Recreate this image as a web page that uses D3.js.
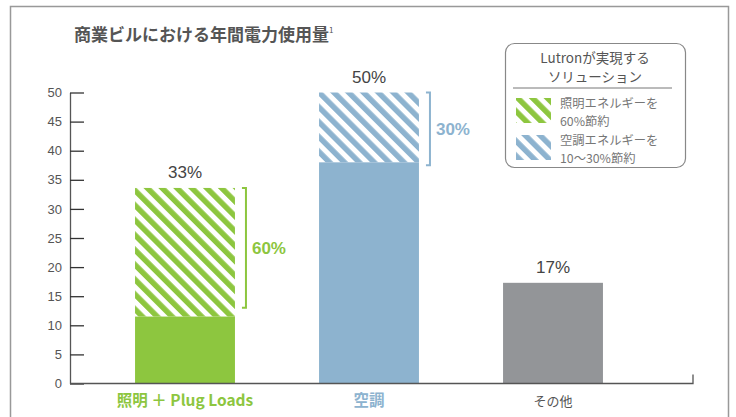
<!DOCTYPE html>
<html>
<head>
<meta charset="utf-8">
<script src="https://cdn.jsdelivr.net/npm/d3@7"></script>
<style>
  body { margin: 0; background: #fff; }
  svg { display: block; font-family: "Noto Sans CJK JP", "Noto Sans", sans-serif; }
</style>
</head>
<body>
<div id="container"></div>
<script>
const categories = ["照明 ＋ Plug Loads", "空調", "その他"];
const totals = [33.6, 50, 17.3];        // full bar height
const baseValues = [11.5, 38, 17.3];    // solid part
const totalLabels = ["33%", "50%", "17%"];
const savingLabels = ["60%", "30%", null];
const bracketLow = [13, 37.5, null];
const yTicks = [0, 5, 10, 15, 20, 25, 30, 35, 40, 45, 50];

const colors = ["#8dc63f", "#8db3cf", "#939598"];
const labelColors = ["#8dc63f", "#8db3cf", "#555"];

const width = 736, height = 417;

const svg = d3.select("#container")
  .append("svg")
  .attr("width", width)
  .attr("height", height);

// stripe patterns
const defs = svg.append("defs");
["green", "blue"].forEach((name, i) => {
  const p = defs.append("pattern")
    .attr("id", "hatch-" + name)
    .attr("patternUnits", "userSpaceOnUse")
    .attr("width", 10.5)
    .attr("height", 10)
    .attr("patternTransform", "rotate(-45)");
  p.append("rect").attr("width", 10.5).attr("height", 10).attr("fill", "#fff");
  p.append("rect").attr("width", 5.5).attr("height", 10).attr("fill", colors[i]);
});
const hatchIds = ["url(#hatch-green)", "url(#hatch-blue)", null];

// frame
svg.append("path")
  .attr("d", "M10.5,417 V6.5 H728.5 V417")
  .attr("fill", "none")
  .attr("stroke", "#999")
  .attr("stroke-width", 1.5);

// title
const title = svg.append("text")
  .attr("x", 74)
  .attr("y", 41)
  .attr("font-size", 17)
  .attr("font-weight", "bold")
  .attr("fill", "#555")
  .text("商業ビルにおける年間電力使用量");
title.append("tspan")
  .attr("font-size", 8)
  .attr("dy", -8)
  .attr("font-weight", "normal")
  .text("1");

const x = d3.scaleBand()
  .domain(categories)
  .range([93, 645])
  .paddingInner(0.457)
  .paddingOuter(0.2285);

const y = d3.scaleLinear()
  .domain([0, 50])
  .range([383.5, 92.5]);

// y axis
const yAxis = svg.append("g")
  .attr("transform", "translate(70,0)")
  .call(d3.axisLeft(y).tickValues(yTicks).tickSizeInner(-14).tickSizeOuter(0).tickPadding(8));
yAxis.select(".domain").attr("stroke", "#555").attr("stroke-width", 1.3);
yAxis.selectAll(".tick line").attr("stroke", "#333").attr("stroke-width", 1.3);
yAxis.selectAll(".tick text")
  .attr("font-size", 13)
  .attr("fill", "#555")
  .attr("font-family", "Liberation Sans, Arial, sans-serif");

// bars: hatched top part
svg.append("g").selectAll("rect")
  .data(categories.filter((c, i) => hatchIds[i]))
  .join("rect")
  .attr("x", d => x(d))
  .attr("width", x.bandwidth())
  .attr("y", d => y(totals[categories.indexOf(d)]))
  .attr("height", d => {
    const i = categories.indexOf(d);
    return y(baseValues[i]) - y(totals[i]);
  })
  .attr("fill", d => hatchIds[categories.indexOf(d)]);

// bars: solid part
svg.append("g").selectAll("rect")
  .data(categories)
  .join("rect")
  .attr("x", d => x(d))
  .attr("width", x.bandwidth())
  .attr("y", (d, i) => y(baseValues[i]))
  .attr("height", (d, i) => y(0) - y(baseValues[i]))
  .attr("fill", (d, i) => colors[i]);

// x axis
svg.append("path")
  .attr("d", `M70,${y(0)} H693 V${y(0) - 9}`)
  .attr("fill", "none")
  .attr("stroke", "#555")
  .attr("stroke-width", 1.3);

// total labels
svg.append("g").selectAll("text")
  .data(categories)
  .join("text")
  .attr("x", d => x(d) + x.bandwidth() / 2)
  .attr("y", (d, i) => y(totals[i]) - 10)
  .attr("text-anchor", "middle")
  .attr("font-size", 17)
  .attr("fill", "#444")
  .attr("font-family", "Liberation Sans, Arial, sans-serif")
  .text((d, i) => totalLabels[i]);

// brackets + saving labels
categories.forEach((c, i) => {
  if (!savingLabels[i]) return;
  const bx = x(c) + x.bandwidth() + 11;
  const y1 = y(totals[i]), y2 = y(bracketLow[i]);
  svg.append("path")
    .attr("d", `M${bx - 4},${y1} H${bx} V${y2} H${bx - 4}`)
    .attr("fill", "none")
    .attr("stroke", colors[i])
    .attr("stroke-width", 2);
  svg.append("text")
    .attr("x", bx + 6)
    .attr("y", (y1 + y2) / 2 + 6)
    .attr("font-size", 17)
    .attr("font-weight", "bold")
    .attr("fill", colors[i])
    .attr("font-family", "Liberation Sans, Arial, sans-serif")
    .text(savingLabels[i]);
});

// category labels
svg.append("g").selectAll("text")
  .data(categories)
  .join("text")
  .attr("x", d => x(d) + x.bandwidth() / 2)
  .attr("y", 406)
  .attr("text-anchor", "middle")
  .attr("font-size", (d, i) => i < 2 ? 15.5 : 13)
  .attr("font-weight", (d, i) => i < 2 ? "bold" : "normal")
  .attr("fill", (d, i) => labelColors[i])
  .text(d => d);

// legend
const legend = svg.append("g");
legend.append("rect")
  .attr("x", 505.5).attr("y", 43.5)
  .attr("width", 180).attr("height", 124)
  .attr("rx", 9)
  .attr("fill", "#fff")
  .attr("stroke", "#888")
  .attr("stroke-width", 1.2);
legend.append("text")
  .attr("x", 595).attr("y", 63)
  .attr("text-anchor", "middle")
  .attr("font-size", 13.5)
  .attr("fill", "#555")
  .text("Lutronが実現する");
legend.append("text")
  .attr("x", 595).attr("y", 82)
  .attr("text-anchor", "middle")
  .attr("font-size", 13.5)
  .attr("fill", "#555")
  .text("ソリューション");
legend.append("line")
  .attr("x1", 513).attr("x2", 672)
  .attr("y1", 88).attr("y2", 88)
  .attr("stroke", "#777")
  .attr("stroke-width", 1);

const legendRows = [
  ["照明エネルギーを", "60%節約"],
  ["空調エネルギーを", "10～30%節約"]
];
legendRows.forEach((row, i) => {
  const top = 98 + i * 37;
  legend.append("rect")
    .attr("x", 516).attr("y", top)
    .attr("width", 35).attr("height", 25)
    .attr("fill", hatchIds[i]);
  row.forEach((t, j) => {
    legend.append("text")
      .attr("x", 560)
      .attr("y", top + 9.5 + j * 18)
      .attr("font-size", 12.3)
      .attr("fill", "#777")
      .text(t);
  });
});
</script>
</body>
</html>
